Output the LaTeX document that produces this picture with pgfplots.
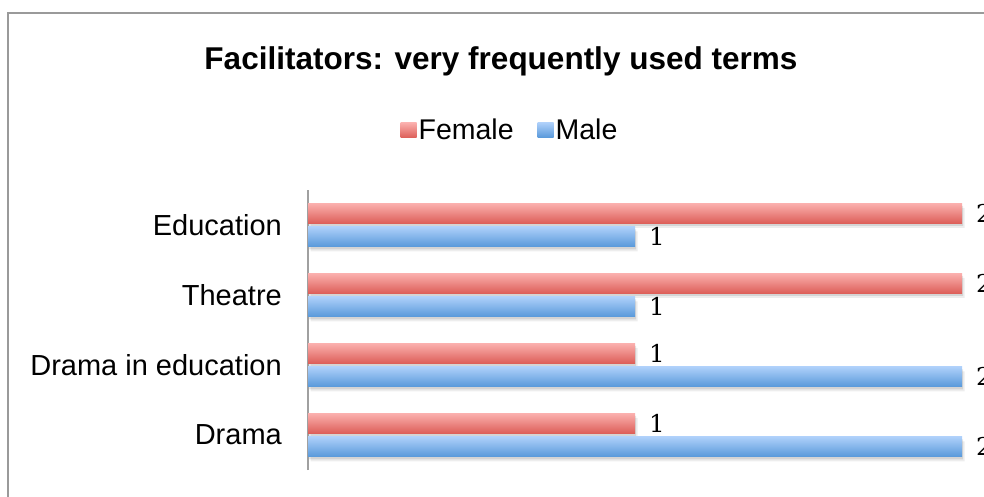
\documentclass[border=0pt]{standalone}
\usepackage{pgfplots}
\pgfplotsset{compat=1.18}
\usepackage{fontspec}
\setmainfont{Liberation Sans}
\newfontfamily\serifnum{DejaVu Serif}
\definecolor{redtop}{HTML}{FBB0AE}
\definecolor{redbot}{HTML}{DD5F59}
\definecolor{bluetop}{HTML}{AED0FA}
\definecolor{bluebot}{HTML}{5999DA}
\definecolor{framegray}{HTML}{9A9A9A}
\definecolor{axisgray}{HTML}{A0A0A0}
\pgfplotsset{
  fbar/.style={xbar, bar width=20pt, bar shift=11.75pt, draw=none,
    top color=redtop, bottom color=redbot, nodes near coords, point meta=x,
    every node near coord/.append style={yshift=11.75pt}},
  mbar/.style={xbar, bar width=20pt, bar shift=-11.75pt, draw=none,
    top color=bluetop, bottom color=bluebot, nodes near coords, point meta=x,
    every node near coord/.append style={yshift=-11.75pt}},
  shadA/.style={xbar, bar width=20pt, bar shift=#1, draw=none, fill=black,
    fill opacity=0.10, xshift=1pt, yshift=-2.5pt, forget plot},
  shadB/.style={xbar, bar width=20pt, bar shift=#1, draw=none, fill=black,
    fill opacity=0.07, xshift=2.5pt, yshift=-4.5pt, forget plot},
}
\begin{document}
\begin{tikzpicture}
\useasboundingbox (0,0) rectangle (984pt,-497pt);
\clip (0,0) rectangle (984pt,-497pt);
\fill[white] (0,0) rectangle (984pt,-497pt);
\draw[framegray, line width=2pt] (8pt,-1200pt) -- (8pt,-13pt) -- (1100pt,-13pt);
\begin{axis}[
  at={(308pt,-470pt)}, anchor=south west,
  scale only axis, width=654pt, height=280pt,
  xmin=0, xmax=2, ymin=-0.5, ymax=3.5,
  axis x line=none, axis y line*=left,
  axis line style={axisgray, line width=2pt, -},
  ytick={0,1,2,3},
  yticklabels={Drama, Drama in education, Theatre, Education},
  ytick style={draw=none},
  yticklabel style={font=\fontsize{29}{34}\selectfont, inner sep=0pt, xshift=-26pt, anchor=east},
  clip=false,
  nodes near coords style={font=\serifnum\fontsize{24.5}{30}\selectfont,
    /pgf/number format/assume math mode=true,
    anchor=west, inner sep=0pt, xshift=14pt, text=black},
  title={Facilitators: very frequently used terms},
  title style={font=\bfseries\fontsize{31.5}{36}\selectfont, at={(axis description cs:0.295,1)},
    anchor=base, yshift=114pt},
  legend columns=2,
  legend style={draw=none, fill=none, font=\fontsize{28.5}{33}\selectfont,
    at={(axis description cs:0.3089,1.214)}, anchor=center,
    /tikz/every even column/.append style={column sep=22pt}},
  legend image code/.code={\path[#1] (0pt,-7.5pt) rectangle (16pt,7.5pt);},
]
% soft shadows under the bars
\addplot[shadA=11.75pt] coordinates {(1,0) (1,1) (2,2) (2,3)};
\addplot[shadB=11.75pt] coordinates {(1,0) (1,1) (2,2) (2,3)};
\addplot[shadA=-11.75pt] coordinates {(2,0) (2,1) (1,2) (1,3)};
\addplot[shadB=-11.75pt] coordinates {(2,0) (2,1) (1,2) (1,3)};
% bars, one per plot so that each bar carries its own gradient
\addplot[fbar] coordinates {(2,3)};
\addlegendentry{Female}
\addplot[mbar] coordinates {(1,3)};
\addlegendentry{Male}
\addplot[fbar, forget plot] coordinates {(2,2)};
\addplot[mbar, forget plot] coordinates {(1,2)};
\addplot[fbar, forget plot] coordinates {(1,1)};
\addplot[mbar, forget plot] coordinates {(2,1)};
\addplot[fbar, forget plot] coordinates {(1,0)};
\addplot[mbar, forget plot] coordinates {(2,0)};
\end{axis}
\end{tikzpicture}
\end{document}
